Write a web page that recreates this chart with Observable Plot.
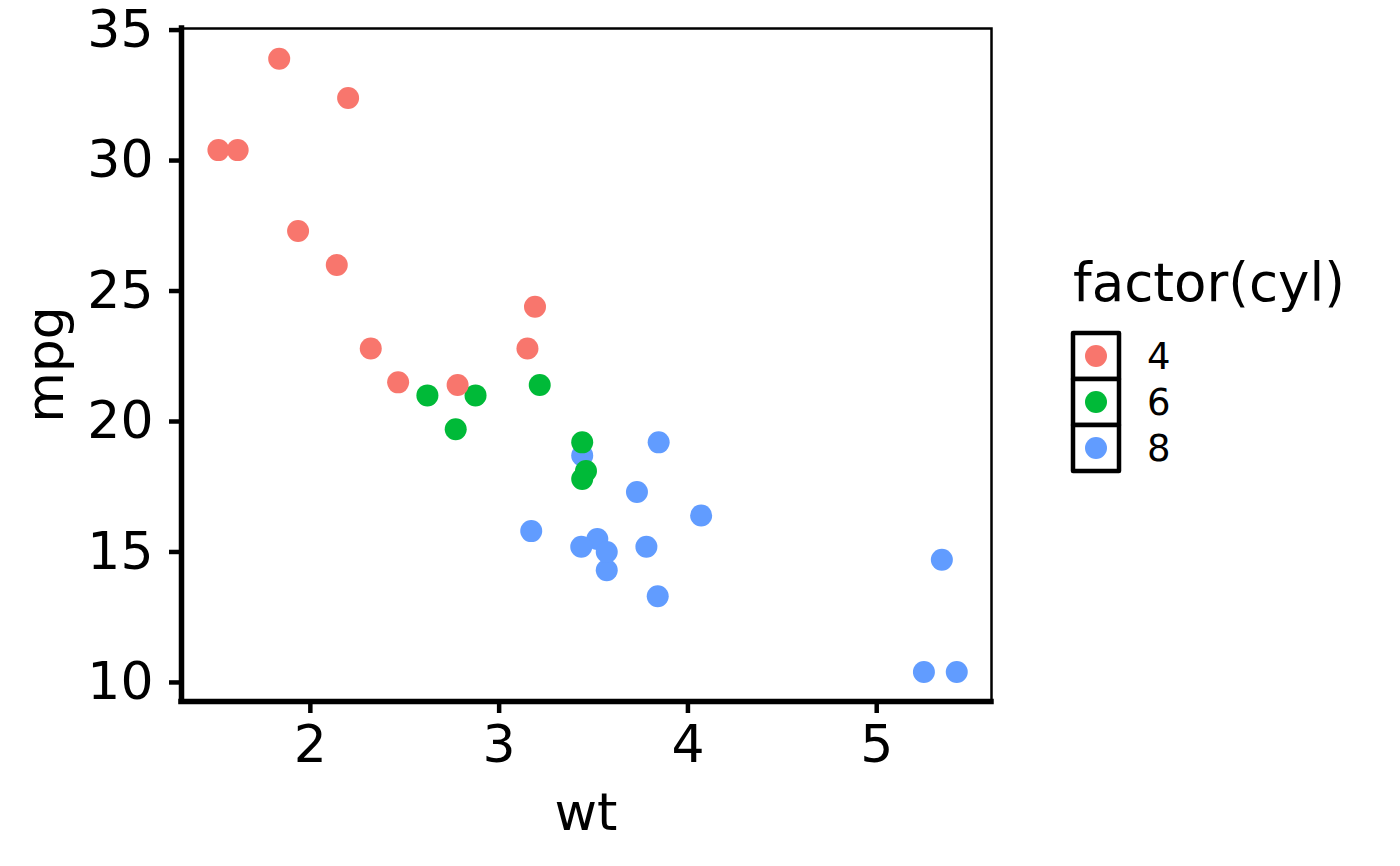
<!DOCTYPE html>
<html><head><meta charset="utf-8">
<script src="https://cdn.jsdelivr.net/npm/d3@7"></script>
<script src="https://cdn.jsdelivr.net/npm/@observablehq/plot@0.6"></script>
<style>
body{margin:0;background:#fff;}
#wrap{position:relative;width:1400px;height:866px;font-family:"DejaVu Sans";}
#wrap svg{position:absolute;left:0;top:0;}
</style>
</head><body><div id="wrap"></div>
<script>
const wt  = [2.620,2.875,2.320,3.215,3.440,3.460,3.570,3.190,3.150,3.440,3.440,4.070,3.730,3.780,5.250,5.424,5.345,2.200,1.615,1.835,2.465,3.520,3.435,3.840,3.845,1.935,2.140,1.513,3.170,2.770,3.570,2.780];
const mpg = [21.0,21.0,22.8,21.4,18.7,18.1,14.3,24.4,22.8,19.2,17.8,16.4,17.3,15.2,10.4,10.4,14.7,32.4,30.4,33.9,21.5,15.5,15.2,13.3,19.2,27.3,26.0,30.4,15.8,19.7,15.0,21.4];
const cyl = [6,6,4,6,8,6,8,4,4,6,6,8,8,8,8,8,8,4,4,4,4,8,8,8,8,4,4,4,8,6,8,4];
const cylLevels = ["4","6","8"];
const cylColors = ["#F8766D","#00BA38","#619CFF"];
const xTicks = [2,3,4,5];
const yTicks = [10,15,20,25,30,35];
const xDomain = [1.3175, 5.608];
const yDomain = [9.27, 35.06];
const xTitle = "wt", yTitle = "mpg", legendTitle = "factor(cyl)";

const data = wt.map((w,i)=>({wt:w, mpg:mpg[i], cyl:String(cyl[i])}));

const plot = Plot.plot({
  width:1400, height:866,
  marginLeft:181, marginRight:409, marginTop:28, marginBottom:165,
  style:{fontFamily:"DejaVu Sans", fontSize:"52px", color:"black", background:"white", overflow:"visible"},
  x:{domain:xDomain},
  y:{domain:yDomain},
  color:{domain:cylLevels, range:cylColors},
  marks:[
    Plot.frame({stroke:"black", strokeWidth:2.5}),
    Plot.ruleX([xDomain[0]], {stroke:"black", strokeWidth:5.5, strokeLinecap:"square"}),
    Plot.ruleY([yDomain[0]], {stroke:"black", strokeWidth:5.5, strokeLinecap:"square"}),
    Plot.axisX({ticks:xTicks, tickFormat:d3.format("d"), tickSize:12, tickPadding:12, strokeWidth:4.5, label:null}),
    Plot.axisY({ticks:yTicks, tickFormat:d3.format("d"), tickSize:12, tickPadding:16, strokeWidth:4.5, label:null}),
    Plot.dot(data, {x:"wt", y:"mpg", fill:"cyl", r:11})
  ]
});
document.getElementById("wrap").appendChild(plot);

const xr = plot.scale("x").range, yr = plot.scale("y").range;
const ov = d3.select("#wrap").append("svg").attr("width",1400).attr("height",866)
  .style("font-family","DejaVu Sans");
// axis titles
ov.append("text").attr("x",(xr[0]+xr[1])/2).attr("y",830).attr("text-anchor","middle").attr("font-size",52).text(xTitle);
ov.append("text").attr("transform",`translate(63,${(yr[0]+yr[1])/2}) rotate(-90)`).attr("text-anchor","middle").attr("font-size",52).text(yTitle);

// legend
ov.append("text").attr("x",1073).attr("y",301).attr("font-size",53).text(legendTitle);
const keyH = 46, keyTop = 333, keyX = 1073, keyW = 46;
cylLevels.forEach((lev,i)=>{
  const y0 = keyTop + i*keyH;
  ov.append("rect").attr("x",keyX).attr("y",y0).attr("width",keyW).attr("height",keyH)
    .attr("fill","white").attr("stroke","black").attr("stroke-width",4.5).attr("stroke-linejoin","round");
});
cylLevels.forEach((lev,i)=>{
  const y0 = keyTop + i*keyH;
  ov.append("circle").attr("cx",keyX+keyW/2).attr("cy",y0+keyH/2).attr("r",11).attr("fill",cylColors[i]);
  ov.append("text").attr("x",1147).attr("y",y0+keyH/2).attr("dy","0.36em").attr("font-size",37).text(lev);
});
</script></body></html>
